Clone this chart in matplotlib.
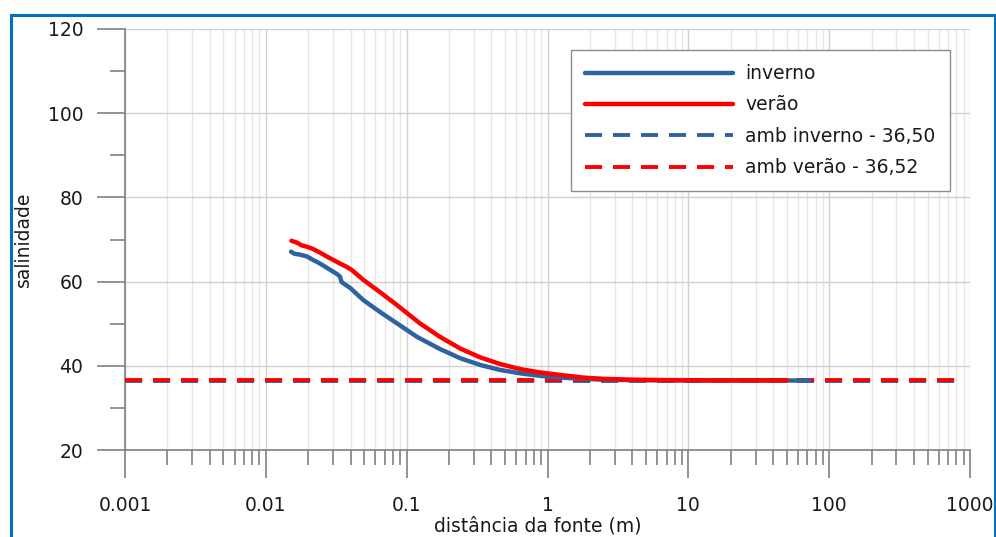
import numpy as np
import matplotlib
matplotlib.use("Agg")
import matplotlib.pyplot as plt
from matplotlib.patches import Rectangle
from matplotlib.ticker import FixedLocator, LogLocator, NullFormatter

# ---------------- Data ----------------
dist_inverno = [0.0151, 0.0160, 0.0175, 0.0195, 0.0215, 0.0242, 0.028, 0.032,
                0.0336, 0.0345, 0.040, 0.0493, 0.0652, 0.087, 0.118, 0.172,
                0.240, 0.333, 0.463, 0.644, 0.896, 1.25, 1.8, 2.5, 4.0, 7.0,
                15.0, 72.0]
sal_inverno = [67.1, 66.6, 66.4, 66.0, 65.2, 64.3, 63.0, 61.8,
               61.2, 59.9, 58.4, 55.6, 52.7, 49.9, 46.9, 44.0,
               41.8, 40.2, 39.0, 38.2, 37.6, 37.2, 36.9, 36.7, 36.6, 36.55,
               36.5, 36.5]

dist_verao = [0.0152, 0.0165, 0.018, 0.0195, 0.0215, 0.0242, 0.028, 0.0336,
              0.037, 0.0406, 0.0493, 0.0652, 0.0848, 0.124, 0.172, 0.240,
              0.333, 0.463, 0.644, 0.896, 1.25, 1.8, 2.5, 4.0, 7.0, 15.0, 50.0]
sal_verao = [69.7, 69.3, 68.6, 68.3, 67.8, 66.9, 65.7, 64.3,
             63.6, 62.8, 60.4, 57.4, 54.5, 50.1, 46.9, 44.1,
             42.0, 40.4, 39.2, 38.4, 37.8, 37.2, 36.9, 36.7, 36.6, 36.55, 36.55]

amb_range = [0.001, 900]
amb_inverno = 36.50
amb_verao = 36.52

x_ticks = [0.001, 0.01, 0.1, 1, 10, 100, 1000]
x_ticklabels = ["0.001", "0.01", "0.1", "1", "10", "100", "1000"]
y_ticks = [20, 40, 60, 80, 100, 120]

BLUE = "#2E62A0"
RED = "#FF0000"
AXIS_GRAY = "#808080"
TEXT = "#1a1a1a"
FS = 13.5

plt.rcParams["font.family"] = ["DejaVu Sans"]

# ---------------- Plot ----------------
fig = plt.figure(figsize=(9.96, 5.37), dpi=100)
ax = fig.add_axes([125 / 996, 1 - 450 / 537, 845 / 996, 421 / 537])

ax.plot(dist_inverno, sal_inverno, color=BLUE, lw=3.2, zorder=4,
        solid_capstyle="round", label="inverno")
ax.plot(dist_verao, sal_verao, color=RED, lw=3.2, zorder=5,
        solid_capstyle="round", label="verão")
ax.plot(amb_range, [amb_inverno] * 2, color=BLUE, lw=2.8, ls=(0, (4.4, 2.8)),
        zorder=3, label="amb inverno - 36,50")
ax.plot(amb_range, [amb_verao] * 2, color=RED, lw=2.8, ls=(0, (4.4, 2.8)),
        zorder=3, label="amb verão - 36,52")

ax.set_xscale("log")
ax.set_xlim(0.001, 1000)
ax.set_ylim(20, 120)

ax.xaxis.set_major_locator(FixedLocator(x_ticks))
ax.set_xticklabels(x_ticklabels)
ax.xaxis.set_minor_locator(LogLocator(base=10, subs=np.arange(2, 10)))
ax.xaxis.set_minor_formatter(NullFormatter())
ax.set_yticks(y_ticks)
ax.set_yticks(np.arange(30, 120, 20), minor=True)

ax.tick_params(axis="both", which="major", length=20, width=1.2,
               color=AXIS_GRAY, labelsize=FS, labelcolor=TEXT)
ax.tick_params(axis="both", which="minor", length=10.5, width=1.2,
               color=AXIS_GRAY)
ax.tick_params(axis="x", which="major", pad=13)
ax.tick_params(axis="y", which="major", pad=10)

ax.grid(True, which="major", color="#d0d0d0", lw=1.0, zorder=0)
ax.grid(True, which="minor", axis="x", color="#e6e6e6", lw=1.0, zorder=0)
ax.set_axisbelow(True)

for side in ["top", "right"]:
    ax.spines[side].set_visible(False)
for side in ["left", "bottom"]:
    ax.spines[side].set_color(AXIS_GRAY)
    ax.spines[side].set_linewidth(1.2)

ax.set_xlabel("distância da fonte (m)", fontsize=FS, color=TEXT)
ax.xaxis.set_label_coords(0.489, -0.158)
ax.set_ylabel("salinidade", fontsize=FS, color=TEXT)
ax.yaxis.set_label_coords(-0.109, 0.5)

leg = ax.legend(loc="upper left", bbox_to_anchor=(0.528, 0.950),
                borderaxespad=0, fontsize=FS, handlelength=7.9,
                handletextpad=0.64, labelspacing=0.66, borderpad=0.75,
                fancybox=False, framealpha=1.0, edgecolor="#8c8c8c")
leg.get_frame().set_linewidth(1.0)
for t in leg.get_texts():
    t.set_color(TEXT)

# outer frame around the figure
fig.add_artist(Rectangle((10.5 / 996, -0.05), (994.5 - 10.5) / 996,
                         1.05 - 15 / 537, transform=fig.transFigure,
                         fill=False, edgecolor="#0070C0", lw=2.2))

fig.savefig("out.png", dpi=100)
